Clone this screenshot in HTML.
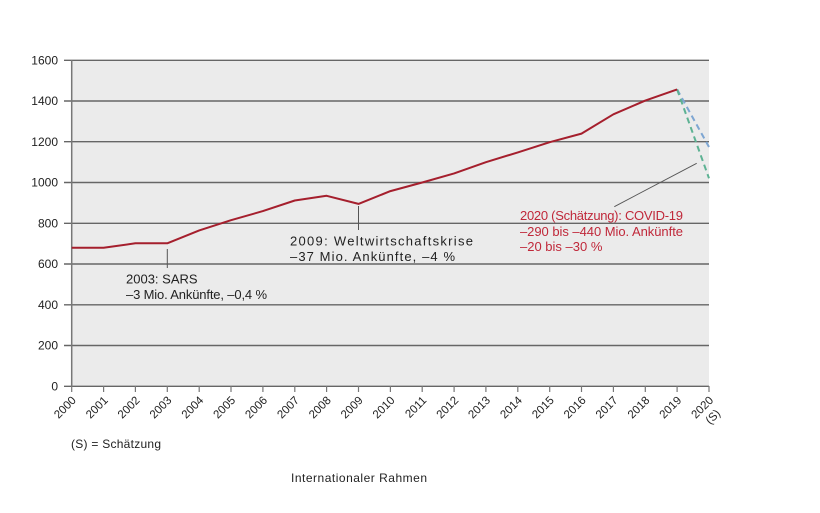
<!DOCTYPE html>
<html>
<head>
<meta charset="utf-8">
<style>
html,body{margin:0;padding:0;background:#fff;}
svg{display:block;}
text{font-family:"Liberation Sans",sans-serif;}
</style>
</head>
<body>
<svg width="820" height="513" viewBox="0 0 820 513" xmlns="http://www.w3.org/2000/svg">
<rect x="0" y="0" width="820" height="513" fill="#fff"/>
<!-- plot background -->
<rect x="72" y="60" width="637" height="326" fill="#ebebeb"/>
<!-- grid lines -->
<g stroke="#666" stroke-width="1.4">
<line x1="64" y1="60.3" x2="709" y2="60.3"/>
<line x1="64" y1="101" x2="709" y2="101"/>
<line x1="64" y1="141.7" x2="709" y2="141.7"/>
<line x1="64" y1="182.5" x2="709" y2="182.5"/>
<line x1="64" y1="223.3" x2="709" y2="223.3"/>
<line x1="64" y1="264" x2="709" y2="264"/>
<line x1="64" y1="304.8" x2="709" y2="304.8"/>
<line x1="64" y1="345.5" x2="709" y2="345.5"/>
<line x1="64" y1="386.3" x2="709" y2="386.3"/>
</g>
<line x1="71.7" y1="60" x2="71.7" y2="387" stroke="#777" stroke-width="1.5"/>
<!-- x ticks -->
<g stroke="#777" stroke-width="1.2">
<line x1="71.7" y1="386" x2="71.7" y2="392"/>
<line x1="103.6" y1="386" x2="103.6" y2="392"/>
<line x1="135.4" y1="386" x2="135.4" y2="392"/>
<line x1="167.3" y1="386" x2="167.3" y2="392"/>
<line x1="199.2" y1="386" x2="199.2" y2="392"/>
<line x1="231.0" y1="386" x2="231.0" y2="392"/>
<line x1="262.9" y1="386" x2="262.9" y2="392"/>
<line x1="294.8" y1="386" x2="294.8" y2="392"/>
<line x1="326.6" y1="386" x2="326.6" y2="392"/>
<line x1="358.5" y1="386" x2="358.5" y2="392"/>
<line x1="390.4" y1="386" x2="390.4" y2="392"/>
<line x1="422.2" y1="386" x2="422.2" y2="392"/>
<line x1="454.1" y1="386" x2="454.1" y2="392"/>
<line x1="485.9" y1="386" x2="485.9" y2="392"/>
<line x1="517.8" y1="386" x2="517.8" y2="392"/>
<line x1="549.7" y1="386" x2="549.7" y2="392"/>
<line x1="581.5" y1="386" x2="581.5" y2="392"/>
<line x1="613.4" y1="386" x2="613.4" y2="392"/>
<line x1="645.3" y1="386" x2="645.3" y2="392"/>
<line x1="677.1" y1="386" x2="677.1" y2="392"/>
<line x1="709.0" y1="386" x2="709.0" y2="392"/>
</g>
<!-- y labels -->
<g font-size="12" fill="#222" text-anchor="end">
<text x="58" y="64.5">1600</text>
<text x="58" y="105.2">1400</text>
<text x="58" y="145.9">1200</text>
<text x="58" y="186.7">1000</text>
<text x="58" y="227.5">800</text>
<text x="58" y="268.2">600</text>
<text x="58" y="309">400</text>
<text x="58" y="349.7">200</text>
<text x="58" y="390.5">0</text>
</g>
<!-- x labels -->
<g font-size="11.5" fill="#222" text-anchor="end">
<text transform="translate(76.7,401) rotate(-45)">2000</text>
<text transform="translate(108.6,401) rotate(-45)">2001</text>
<text transform="translate(140.4,401) rotate(-45)">2002</text>
<text transform="translate(172.3,401) rotate(-45)">2003</text>
<text transform="translate(204.2,401) rotate(-45)">2004</text>
<text transform="translate(236.0,401) rotate(-45)">2005</text>
<text transform="translate(267.9,401) rotate(-45)">2006</text>
<text transform="translate(299.8,401) rotate(-45)">2007</text>
<text transform="translate(331.6,401) rotate(-45)">2008</text>
<text transform="translate(363.5,401) rotate(-45)">2009</text>
<text transform="translate(395.4,401) rotate(-45)">2010</text>
<text transform="translate(427.2,401) rotate(-45)">2011</text>
<text transform="translate(459.1,401) rotate(-45)">2012</text>
<text transform="translate(490.9,401) rotate(-45)">2013</text>
<text transform="translate(522.8,401) rotate(-45)">2014</text>
<text transform="translate(554.7,401) rotate(-45)">2015</text>
<text transform="translate(586.5,401) rotate(-45)">2016</text>
<text transform="translate(618.4,401) rotate(-45)">2017</text>
<text transform="translate(650.3,401) rotate(-45)">2018</text>
<text transform="translate(682.1,401) rotate(-45)">2019</text>
<text transform="translate(714.0,401) rotate(-45)">2020</text>
<text transform="translate(721,414) rotate(-45)">(S)</text>
</g>
<!-- annotation leader lines -->
<line x1="167.3" y1="249" x2="167.3" y2="268" stroke="#555" stroke-width="1"/>
<line x1="358.5" y1="206" x2="358.5" y2="230" stroke="#555" stroke-width="1"/>
<line x1="696.7" y1="163.3" x2="614.3" y2="206.7" stroke="#555" stroke-width="0.9"/>
<!-- dashed estimates -->
<polyline points="677.1,89.4 709,147" fill="none" stroke="#7ea6d2" stroke-width="2" stroke-dasharray="6,4"/>
<polyline points="677.1,89.4 709,178.3" fill="none" stroke="#5db293" stroke-width="2" stroke-dasharray="6,4"/>
<!-- main series -->
<polyline points="71.7,247.8 103.6,247.8 135.4,243.3 167.3,243.3 199.2,230.4 231.0,220.2 262.9,211.1 294.8,200.5 326.6,195.8 358.5,203.9 390.4,191.1 422.2,182.5 454.1,173.4 485.9,162.2 517.8,152.4 549.7,142.2 581.5,133.6 613.4,114.3 645.3,100.6 677.1,89.4" fill="none" stroke="#a51f2d" stroke-width="2" stroke-linejoin="round"/>
<!-- annotations -->
<g font-size="13" fill="#222">
<text x="126" y="283.5">2003: SARS</text>
<text x="126" y="299" textLength="141" lengthAdjust="spacing">–3 Mio. Ankünfte, –0,4 %</text>
<text x="290" y="245.5" textLength="183" lengthAdjust="spacing">2009: Weltwirtschaftskrise</text>
<text x="290" y="261" textLength="165" lengthAdjust="spacing">–37 Mio. Ankünfte, –4 %</text>
</g>
<g font-size="13" fill="#c0283a">
<text x="520" y="220" textLength="163" lengthAdjust="spacing">2020 (Schätzung): COVID-19</text>
<text x="520" y="236" textLength="163" lengthAdjust="spacing">–290 bis –440 Mio. Ankünfte</text>
<text x="520" y="251">–20 bis –30 %</text>
</g>
<g font-size="12" fill="#222">
<text x="71" y="448" textLength="90" lengthAdjust="spacing">(S) = Schätzung</text>
<text x="291" y="482" textLength="136" lengthAdjust="spacing">Internationaler Rahmen</text>
</g>
</svg>
</body>
</html>
